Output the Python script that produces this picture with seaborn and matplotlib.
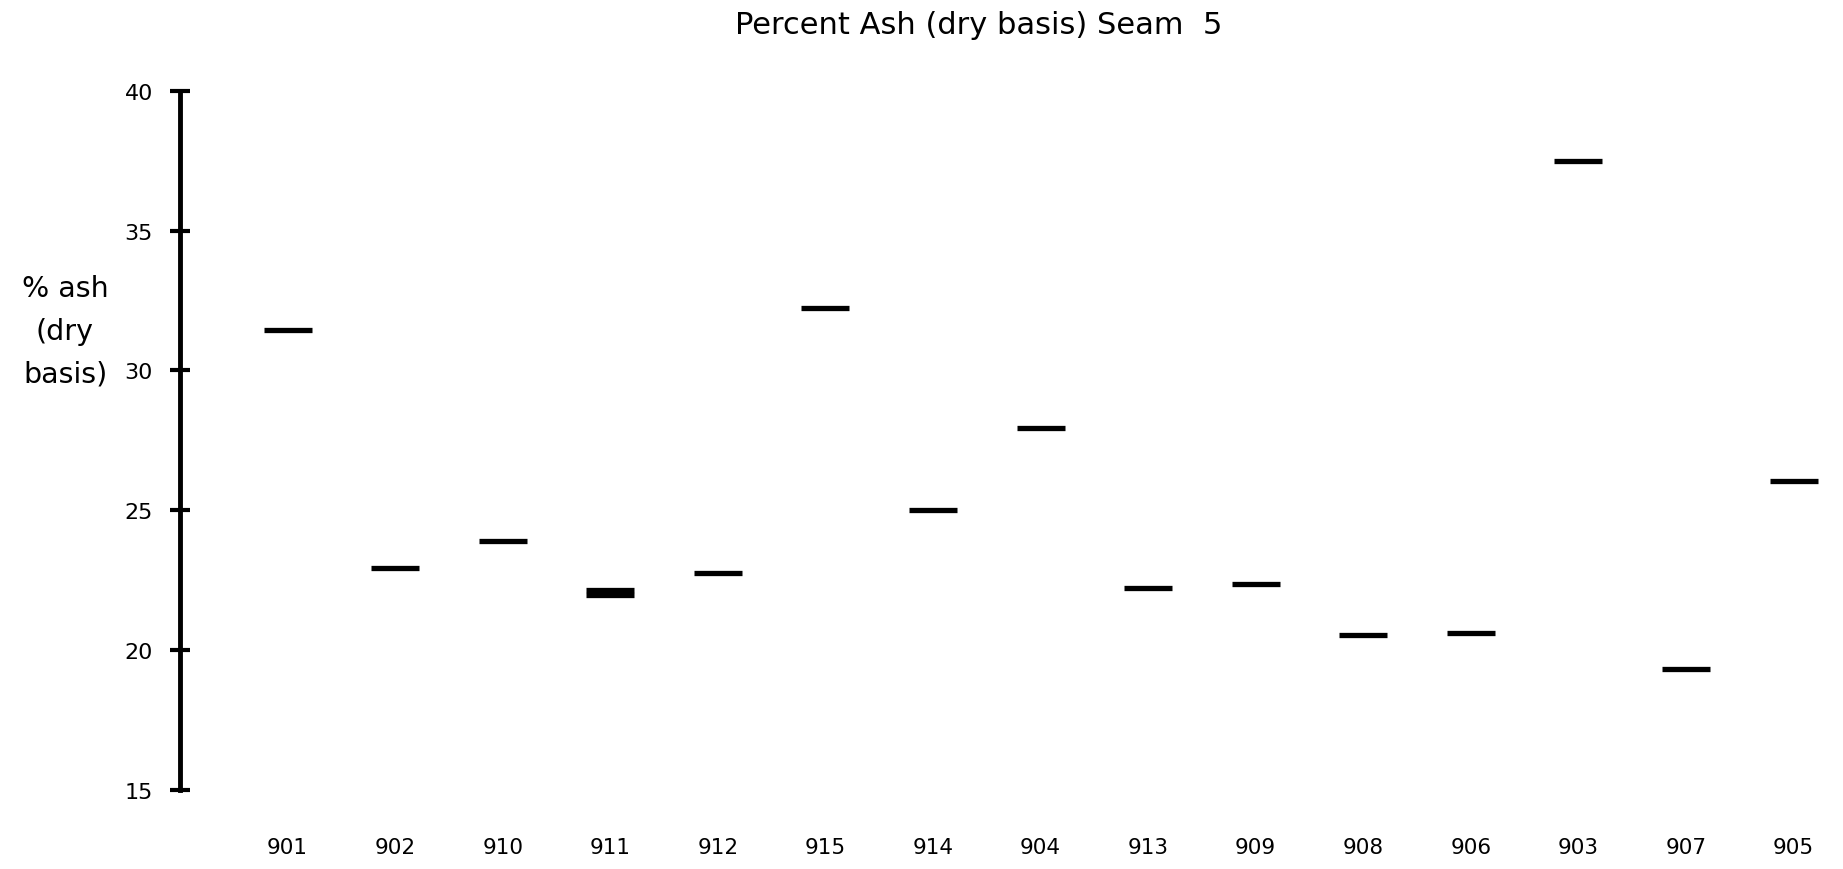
import matplotlib
matplotlib.use("Agg")
import matplotlib.pyplot as plt
import seaborn as sns
import pandas as pd

# Sample order along the x axis
sample_order = ["901", "902", "910", "911", "912", "915", "914", "904",
                "913", "909", "908", "906", "903", "907", "905"]

# Ash analyses (sample 911 was run twice)
samples = ["901", "902", "910", "911", "911", "912", "915", "914", "904",
           "913", "909", "908", "906", "903", "907", "905"]
ash_pct = [31.43, 22.94, 23.91, 22.14, 21.96, 22.77, 32.23, 25.0, 27.94,
           22.23, 22.35, 20.55, 20.63, 37.48, 19.33, 26.05]

y_ticks = [15, 20, 25, 30, 35, 40]

df = pd.DataFrame({"sample": samples, "ash": ash_pct})

sns.set_theme(style="white")
plt.rcParams["font.family"] = ["DejaVu Sans"]

fig = plt.figure(figsize=(18.43, 8.7), dpi=100)
ax = fig.add_axes([180 / 1843, 1 - 791 / 870, 1 - 180 / 1843, (791 - 91.7) / 870])

sns.stripplot(data=df, x="sample", y="ash", order=sample_order, jitter=False,
              marker="_", size=34.5, linewidth=3.8, color="black",
              edgecolor="black", ax=ax)

ax.set_xlim(-1.0, 14.46)
ax.set_ylim(15, 40)
ax.set_yticks(y_ticks)
ax.set_xlabel("")
ax.set_ylabel("")

for side in ["top", "right", "bottom"]:
    ax.spines[side].set_visible(False)
ax.spines["left"].set_linewidth(3.5)
ax.spines["left"].set_color("black")

ax.tick_params(axis="y", left=True, direction="inout", length=15, width=3,
               color="black", pad=12, labelsize=16, labelcolor="black")
ax.tick_params(axis="x", bottom=False, length=0, pad=34, labelsize=15.5,
               labelcolor="black")

fig.text(979 / 1843, 1 - 26 / 870, "Percent Ash (dry basis) Seam  5",
         ha="center", va="center", fontsize=22, color="black")
fig.text(65 / 1843, 1 - 332 / 870, "% ash\n(dry\nbasis)", ha="center",
         va="center", fontsize=20.5, linespacing=1.68, color="black")

fig.savefig("out.png", dpi=100)
